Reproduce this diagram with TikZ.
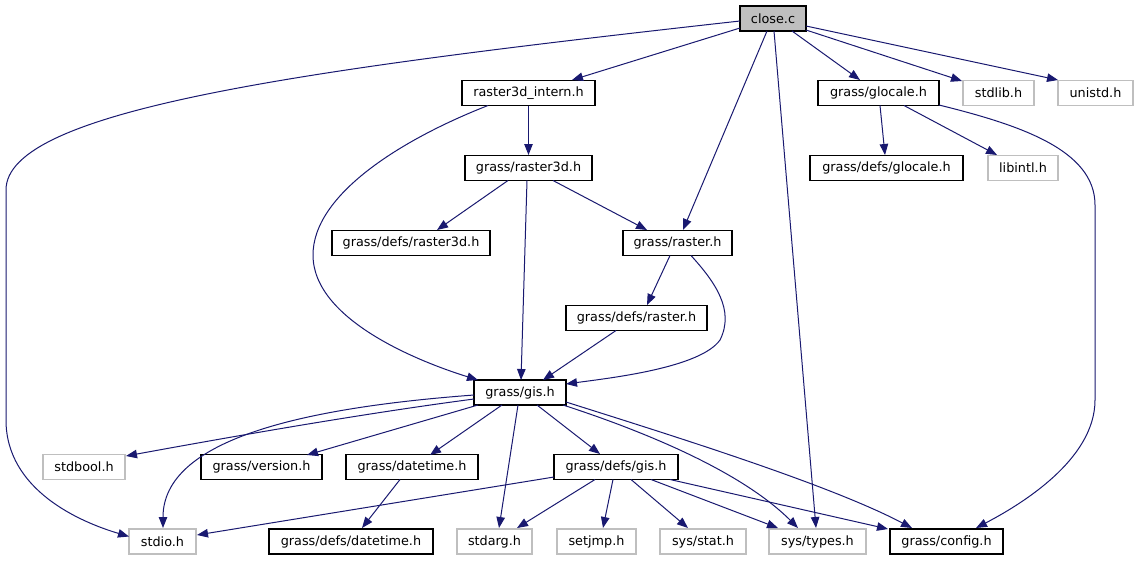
\documentclass[tikz,border=0pt]{standalone}
\usepackage{fontspec}
\setmainfont{DejaVu Sans}
\usetikzlibrary{arrows.meta,calc}
\definecolor{edgeblue}{HTML}{191970}
\definecolor{nodegray}{HTML}{BFBFBF}
\tikzset{
  box/.style={draw=black, line width=1.1pt, fill=white, minimum height=25pt, inner sep=0pt, font=\fontsize{12.8}{15}\selectfont},
  sysbox/.style={box, draw=nodegray},
  rootbox/.style={box, fill=nodegray},
  dep/.style={draw=edgeblue, line width=1pt, -{Triangle[length=11pt,width=8.5pt]}}
}
\begin{document}
\begin{tikzpicture}[x=1pt,y=-1pt]
\useasboundingbox[fill=white] (0,0) rectangle (1139,560);
% nodes
\node[rootbox, minimum width=66pt]  (close)    at (773,18.5)   {close.c};
\node[box, minimum width=133pt]     (r3di)     at (528.5,93)   {raster3d\_intern.h};
\node[box, minimum width=121pt]     (glocale)  at (878.5,93)   {grass/glocale.h};
\node[sysbox, minimum width=71pt]   (stdlib)   at (998.5,93)   {stdlib.h};
\node[sysbox, minimum width=75pt]   (unistd)   at (1095.5,93)  {unistd.h};
\node[box, minimum width=127pt]     (r3d)      at (528.5,168)  {grass/raster3d.h};
\node[box, minimum width=153pt]     (dglocale) at (886.5,168)  {grass/defs/glocale.h};
\node[sysbox, minimum width=70pt]   (libintl)  at (1023,168)   {libintl.h};
\node[box, minimum width=158pt]     (dr3d)     at (411,243)    {grass/defs/raster3d.h};
\node[box, minimum width=109pt]     (raster)   at (677.5,243)  {grass/raster.h};
\node[box, minimum width=141pt]     (draster)  at (636.5,318)  {grass/defs/raster.h};
\node[box, minimum width=92pt]      (gis)      at (520,392.5)  {grass/gis.h};
\node[sysbox, minimum width=82pt]   (stdbool)  at (84,467)     {stdbool.h};
\node[box, minimum width=121pt]     (version)  at (261.5,467)  {grass/version.h};
\node[box, minimum width=132pt]     (datetime) at (412,467)    {grass/datetime.h};
\node[box, minimum width=124pt]     (dgis)     at (616,467)    {grass/defs/gis.h};
\node[sysbox, minimum width=67pt]   (stdio)    at (162.5,541.5) {stdio.h};
\node[box, minimum width=164pt]     (ddatetime) at (351,541.5) {grass/defs/datetime.h};
\node[sysbox, minimum width=75pt]   (stdarg)   at (494.5,541.5) {stdarg.h};
\node[sysbox, minimum width=79pt]   (setjmp)   at (596.5,541.5) {setjmp.h};
\node[sysbox, minimum width=86pt]   (sysstat)  at (703,541.5)  {sys/stat.h};
\node[sysbox, minimum width=97pt]   (systypes) at (817.5,541.5) {sys/types.h};
\node[box, minimum width=113pt]     (config)   at (946.5,541.5) {grass/config.h};
% edges from close.c
\draw[dep] ($(close)+(-33,2.5)$) .. controls (300,70) and (6,110) .. (6,190) -- (6,420) .. controls (6,490) and (80,522) .. ($(stdio)+(-33.5,-5)$);
\draw[dep] ($(close)+(-33,9.5)$) -- ($(r3di)+(43.5,-13)$);
\draw[dep] ($(close)+(-6,12.5)$) -- ($(raster)+(5.5,-13)$);
\draw[dep] ($(close)+(1,12.5)$) -- ($(systypes)+(-1.5,-13.5)$);
\draw[dep] ($(close)+(19,12.5)$) -- ($(glocale)+(-18.5,-13)$);
\draw[dep] ($(close)+(33,11.5)$) -- ($(stdlib)+(-36.5,-12)$);
\draw[dep] ($(close)+(33,7.5)$) -- ($(unistd)+(-37.5,-13)$);
% raster3d_intern.h
\draw[dep] ($(r3di)+(0,12.5)$) -- ($(r3d)+(0,-13)$);
\draw[dep] ($(r3di)+(-40.5,12.5)$) .. controls (400,140) and (313,195) .. (313,255) .. controls (313,320) and (420,362) .. ($(gis)+(-42,-12.5)$);
% grass/raster3d.h
\draw[dep] ($(r3d)+(-20.5,12.5)$) -- ($(dr3d)+(26,-13)$);
\draw[dep] ($(r3d)+(-1.5,12.5)$) -- ($(gis)+(1,-12.5)$);
\draw[dep] ($(r3d)+(24.5,12.5)$) -- ($(raster)+(-30.5,-13)$);
% grass/raster.h
\draw[dep] ($(raster)+(-7.5,12.5)$) -- ($(draster)+(10.5,-13)$);
\draw[dep] ($(raster)+(13.5,12.5)$) .. controls (715,282) and (735,310) .. (720,340) .. controls (700,368) and (610,378) .. ($(gis)+(46,-8.5)$);
% grass/defs/raster.h
\draw[dep] ($(draster)+(-20.5,12.5)$) -- ($(gis)+(23,-12.5)$);
% grass/glocale.h
\draw[dep] ($(glocale)+(1.5,12.5)$) -- ($(dglocale)+(-1.5,-13)$);
\draw[dep] ($(glocale)+(25.5,12.5)$) -- ($(libintl)+(-26,-13)$);
\draw[dep] ($(glocale)+(60.5,12)$) .. controls (1020,125) and (1095,150) .. (1095,205) -- (1095,400) .. controls (1095,460) and (1020,505) .. ($(config)+(29.5,-13.5)$);
% grass/gis.h
\draw[dep] ($(gis)+(-46,6.5)$) .. controls (360,414) and (230,437) .. ($(stdbool)+(42,-11)$);
\draw[dep] ($(gis)+(-46,2.5)$) .. controls (300,408) and (163,440) .. ($(stdio)+(0.5,-13.5)$);
\draw[dep] ($(gis)+(-42,12.5)$) -- ($(version)+(45.5,-12)$);
\draw[dep] ($(gis)+(-18,12.5)$) -- ($(datetime)+(18,-12)$);
\draw[dep] ($(gis)+(-2,12.5)$) -- ($(stdarg)+(4.5,-13.5)$);
\draw[dep] ($(gis)+(17,12.5)$) -- ($(dgis)+(-16,-13)$);
\draw[dep] ($(gis)+(43,12.5)$) .. controls (640,430) and (740,470) .. ($(systypes)+(-19.5,-13.5)$);
\draw[dep] ($(gis)+(46,9.5)$) .. controls (680,438) and (830,485) .. ($(config)+(-34.5,-13.5)$);
% grass/defs/gis.h
\draw[dep] ($(dgis)+(-62,10)$) -- ($(stdio)+(34.5,-6.5)$);
\draw[dep] ($(dgis)+(-21,12.5)$) -- ($(stdarg)+(22.5,-13.5)$);
\draw[dep] ($(dgis)+(-3,12.5)$) -- ($(setjmp)+(6.5,-13.5)$);
\draw[dep] ($(dgis)+(15,12.5)$) -- ($(sysstat)+(-15,-13.5)$);
\draw[dep] ($(dgis)+(35,12.5)$) -- ($(systypes)+(-39.5,-13.5)$);
\draw[dep] ($(dgis)+(54,12.5)$) -- ($(config)+(-58.5,-12.5)$);
% grass/datetime.h
\draw[dep] ($(datetime)+(-12,12.5)$) -- ($(ddatetime)+(11,-13.5)$);
\end{tikzpicture}
\end{document}
